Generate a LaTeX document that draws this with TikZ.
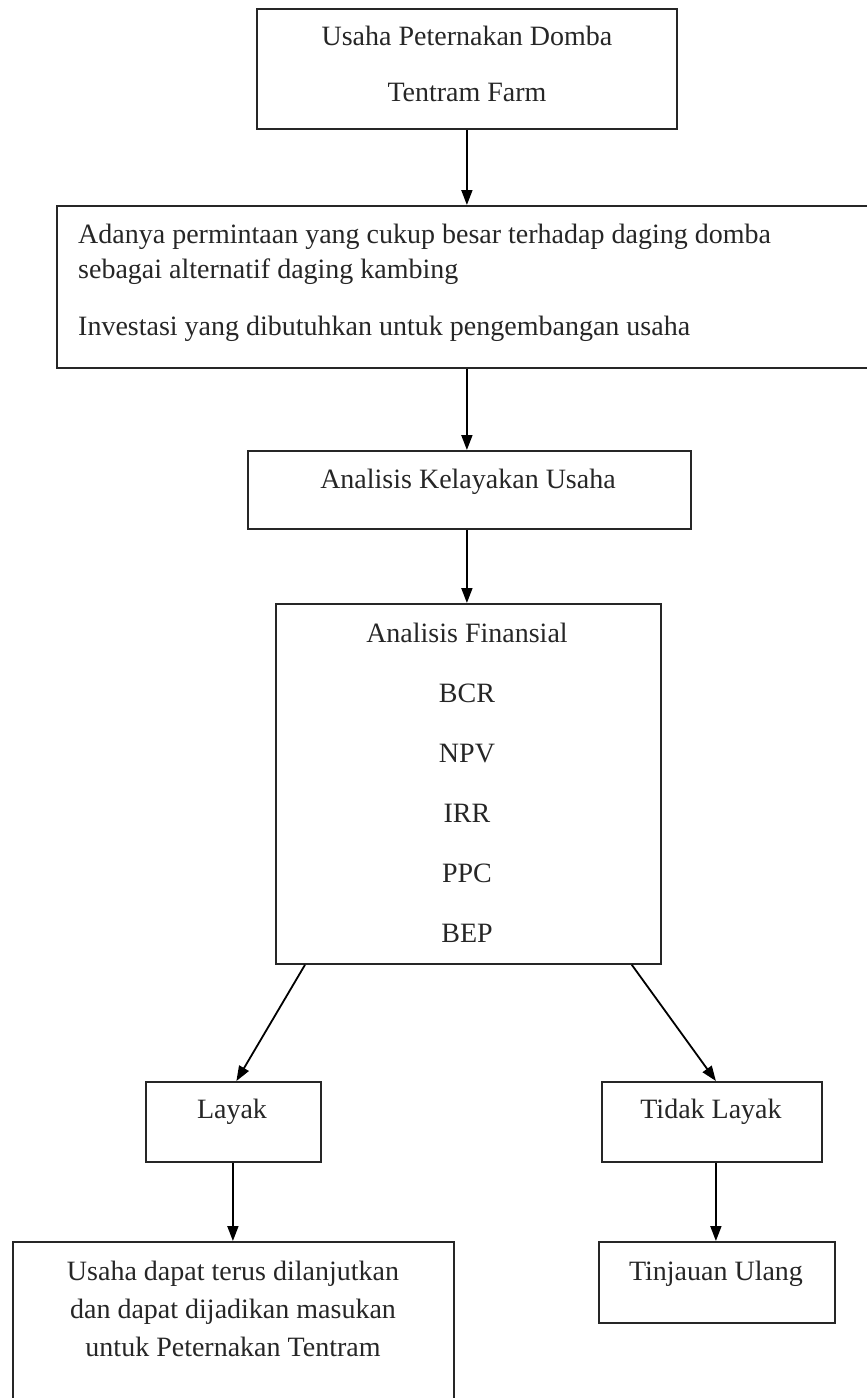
\documentclass[tikz,border=0pt]{standalone}
\usepackage{fontspec}
\setmainfont{Liberation Serif}
\usetikzlibrary{arrows.meta,calc}
\begin{document}
\begin{tikzpicture}[x=1pt,y=-1pt,
 box/.style={draw=black!85,line width=1.8pt,rectangle,inner sep=0pt,anchor=north west},
 txt/.style={font=\fontsize{28}{34}\selectfont,text=black!85,inner sep=0pt,anchor=base},
 ltxt/.style={txt,anchor=base west},
 arr/.style={draw=black,line width=1.8pt,-{Triangle[length=15pt,width=11pt]}}]
\useasboundingbox (0,0) rectangle (867,1398);
\clip (0,0) rectangle (867,1398);
% boxes
\node[box,minimum width=420pt,minimum height=120pt] (b1) at (256,8) {};
\node[box,minimum width=840pt,minimum height=162pt] (b2) at (56,205) {};
\node[box,minimum width=443pt,minimum height=78pt] (b3) at (247,450) {};
\node[box,minimum width=385pt,minimum height=360pt] (b4) at (275,603) {};
\node[box,minimum width=175pt,minimum height=80pt] (lay) at (145,1081) {};
\node[box,minimum width=220pt,minimum height=80pt] (tid) at (601,1081) {};
\node[box,minimum width=441pt,minimum height=220pt] (bl) at (12,1241) {};
\node[box,minimum width=236pt,minimum height=81pt] (tin) at (598,1241) {};
% texts
\node[txt] (t1a) at (467,45) {Usaha Peternakan Domba};
\node[txt] (t1b) at (467,101) {Tentram Farm};
\node[ltxt] (t2a) at (78,243) {Adanya permintaan yang cukup besar terhadap daging domba};
\node[ltxt] (t2b) at (78,278) {sebagai alternatif daging kambing};
\node[ltxt] (t2c) at (78,335) {Investasi yang dibutuhkan untuk pengembangan usaha};
\node[txt] (t3) at (468,488) {Analisis Kelayakan Usaha};
\node[txt] (t4a) at (467,642) {Analisis Finansial};
\node[txt] (t4b) at (467,702) {BCR};
\node[txt] (t4c) at (467,762) {NPV};
\node[txt] (t4d) at (467,822) {IRR};
\node[txt] (t4e) at (467,882) {PPC};
\node[txt] (t4f) at (467,942) {BEP};
\node[txt] (tl) at (232,1118) {Layak};
\node[txt] (tt) at (711,1118) {Tidak Layak};
\node[txt] (tba) at (233,1280) {Usaha dapat terus dilanjutkan};
\node[txt] (tbb) at (233,1318) {dan dapat dijadikan masukan};
\node[txt] (tbc) at (233,1356) {untuk Peternakan Tentram};
\node[txt] (ttn) at (716,1280) {Tinjauan Ulang};
% connectors
\draw[arr] (b1.south) -- (b1.south |- b2.north);
\draw[arr] (b1.south |- b2.south) -- (b1.south |- b3.north);
\draw[arr] (b1.south |- b3.south) -- (b1.south |- b4.north);
\draw[arr] ($(b4.south west)+(30,0)$) -- ($(lay.north)+(3,0)$);
\draw[arr] ($(b4.south east)+(-30,0)$) -- ($(tid.north)+(4,0)$);
\draw[arr] ($(lay.south)+(-0.5,0)$) -- ($(lay.south |- bl.north)+(-0.5,0)$);
\draw[arr] ($(tid.south)+(4,0)$) -- ($(tid.south |- tin.north)+(4,0)$);
\end{tikzpicture}
\end{document}
